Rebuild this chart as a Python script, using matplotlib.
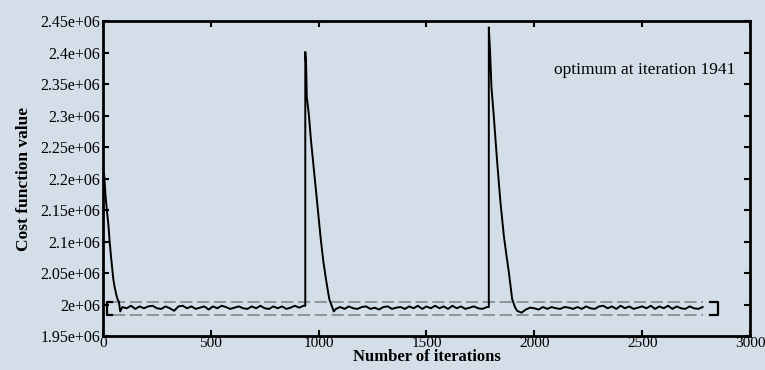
import matplotlib
matplotlib.use("Agg")
import matplotlib.pyplot as plt
import numpy as np

plt.rcParams['font.family'] = ['Liberation Serif', 'DejaVu Serif']

# descent / spike phases: (iteration, cost in thousands)
start_iter = [0, 6, 12, 18, 25, 31, 37, 42, 48, 55, 63, 68, 74, 80]
start_cost = [2214, 2205, 2172, 2150, 2127, 2100, 2077, 2060, 2040, 2026,
              2014, 2008, 2004, 1989]

noise_a_iter = list(range(90, 931, 20)) + [938]
noise_a_cost = [1996, 1994, 1998, 1993, 1997, 1994, 1997, 1998, 1994, 1993,
                1997, 1994, 1990, 1997, 1998, 1994, 1997, 1993, 1995, 1997,
                1992, 1997, 1994, 1998, 1996, 1993, 1995, 1997, 1994, 1993,
                1997, 1994, 1998, 1994, 1993, 1997, 1994, 1997, 1993, 1995,
                1998, 1995, 1998, 1998]

spike1_iter = [938, 942, 945, 955, 964, 975, 987, 998, 1010, 1022, 1034,
               1049, 1063, 1070]
spike1_cost = [2401, 2380, 2330, 2300, 2262, 2225, 2183, 2145, 2103, 2068,
               2040, 2009, 1996, 1989]

noise_b_iter = list(range(1080, 1781, 20)) + [1789]
noise_b_cost = [1993, 1996, 1993, 1997, 1994, 1993, 1996, 1997, 1993, 1995,
                1992, 1996, 1997, 1993, 1995, 1996, 1993, 1997, 1994, 1998,
                1993, 1997, 1994, 1998, 1994, 1997, 1993, 1998, 1994, 1997,
                1993, 1995, 1997, 1994, 1993, 1996, 1996]

spike2_iter = [1789, 1795, 1801, 1812, 1820, 1828, 1843, 1859, 1870, 1882,
               1897, 1910, 1920, 1941]
spike2_cost = [2440, 2400, 2346, 2299, 2262, 2225, 2162, 2108, 2080, 2051,
               2009, 1996, 1990, 1987]

noise_c_iter = list(range(1960, 2781, 20))
noise_c_cost = [1992, 1995, 1994, 1992, 1996, 1993, 1996, 1994, 1993, 1996,
                1995, 1993, 1996, 1993, 1997, 1994, 1993, 1997, 1998, 1994,
                1997, 1993, 1998, 1994, 1997, 1993, 1995, 1997, 1994, 1998,
                1993, 1997, 1994, 1998, 1993, 1997, 1994, 1993, 1997, 1994,
                1993, 1996]

band_low = 1983.5
band_high = 2003.3
band_x = [45, 2780]
bracket_x = [42, 18, 2815, 2853]

iters = (start_iter + noise_a_iter + spike1_iter + noise_b_iter
         + spike2_iter + noise_c_iter)
cost = np.array(start_cost + noise_a_cost + spike1_cost + noise_b_cost
                + spike2_cost + noise_c_cost) * 1000.0

bg = '#d4dee8'
fig = plt.figure(figsize=(7.65, 3.7), dpi=100, facecolor=bg)
ax = fig.add_axes([0.1346, 0.0919, 0.8458, 0.8511])
ax.set_facecolor('none')

# optimum band
for yv in (band_low, band_high):
    ax.plot(band_x, [yv * 1000] * 2, color='#7f7f7f', lw=1.1,
            dashes=(8, 3), zorder=1)
ax.plot([bracket_x[0], bracket_x[1], bracket_x[1], bracket_x[0]],
        [band_high * 1000, band_high * 1000, band_low * 1000, band_low * 1000],
        color='black', lw=1.6)
ax.plot([bracket_x[2], bracket_x[3], bracket_x[3], bracket_x[2]],
        [band_high * 1000, band_high * 1000, band_low * 1000, band_low * 1000],
        color='black', lw=1.6)

ax.plot(iters, cost, color='black', lw=1.4, zorder=3)

ax.text(2930, 2.3725e6, 'optimum at iteration 1941', ha='right', va='center',
        fontsize=12.5)

ax.set_xlim(0, 3000)
ax.set_ylim(1.95e6, 2.45e6)
ax.set_xticks([0, 500, 1000, 1500, 2000, 2500, 3000])
ax.set_yticks(np.arange(1.95e6, 2.4501e6, 0.05e6))
ax.set_yticklabels(['1.95e+06', '2e+06', '2.05e+06', '2.1e+06', '2.15e+06',
                    '2.2e+06', '2.25e+06', '2.3e+06', '2.35e+06', '2.4e+06',
                    '2.45e+06'])
ax.tick_params(direction='in', length=4, width=1.5, top=True, right=True,
               labelsize=11.5, pad=2)
ax.tick_params(axis='x', labelsize=11, pad=1)
for s in ax.spines.values():
    s.set_linewidth(2)

ax.set_xlabel('Number of iterations', fontsize=12, fontweight='bold',
              labelpad=-1)
ax.set_ylabel('Cost function value', fontsize=12.5, fontweight='bold',
              labelpad=6)

fig.savefig('out.png', dpi=100, facecolor=bg)
